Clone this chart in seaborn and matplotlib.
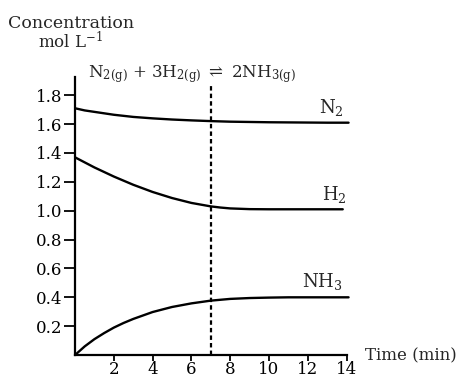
import numpy as np
import pandas as pd
import matplotlib
matplotlib.use("Agg")
import matplotlib.pyplot as plt
import seaborn as sns

# values (mol/L vs minutes)
n2_time = [0, 0.5, 1, 2, 3, 4, 5, 6, 7, 8, 9, 10, 11, 12, 13, 14.1]
n2_conc = [1.71, 1.695, 1.685, 1.665, 1.65, 1.64, 1.632, 1.626, 1.621, 1.617, 1.615, 1.613, 1.612, 1.611, 1.61, 1.61]
h2_time = [0, 0.5, 1, 2, 3, 4, 5, 6, 7, 7.5, 8, 9, 10, 11, 12, 13, 13.8]
h2_conc = [1.37, 1.335, 1.30, 1.237, 1.18, 1.13, 1.088, 1.054, 1.03, 1.022, 1.016, 1.011, 1.01, 1.01, 1.01, 1.01, 1.01]
nh3_time = [0, 0.5, 1, 1.5, 2, 2.5, 3, 4, 5, 6, 7, 8, 9, 10, 11, 12, 13, 14.1]
nh3_conc = [0.0, 0.06, 0.11, 0.152, 0.19, 0.222, 0.25, 0.298, 0.333, 0.358, 0.377, 0.389, 0.395, 0.398, 0.40, 0.40, 0.40, 0.40]
equilibrium_t = 7
x_ticks = [2, 4, 6, 8, 10, 12, 14]
y_ticks = [0.2, 0.4, 0.6, 0.8, 1.0, 1.2, 1.4, 1.6, 1.8]

df = pd.concat([
    pd.DataFrame({"t": n2_time, "c": n2_conc, "gas": "N2"}),
    pd.DataFrame({"t": h2_time, "c": h2_conc, "gas": "H2"}),
    pd.DataFrame({"t": nh3_time, "c": nh3_conc, "gas": "NH3"}),
])

sns.set_theme(style="white")
plt.rcParams["font.family"] = ["DejaVu Serif"]
plt.rcParams["mathtext.fontset"] = "dejavuserif"

fig = plt.figure(figsize=(4.65, 3.83), dpi=100)
ax = fig.add_axes([0.1613, 0.073, 0.605, 0.731])

sns.lineplot(data=df, x="t", y="c", hue="gas", units="gas", estimator=None,
             palette={"N2": "black", "H2": "black", "NH3": "black"},
             linewidth=1.7, legend=False, ax=ax)

ax.plot([equilibrium_t, equilibrium_t], [0, 1.87], color="black", lw=1.6,
        linestyle=(0, (2, 1.4)))

ax.set_xlim(0, 14.5)
ax.set_ylim(0, 1.94)
ax.set_xticks(x_ticks)
ax.set_yticks(y_ticks)
ax.set_xticklabels([str(v) for v in x_ticks])
ax.set_yticklabels([f"{v:.1f}" for v in y_ticks])
ax.set_xlabel("")
ax.set_ylabel("")

for side in ["top", "right"]:
    ax.spines[side].set_visible(False)
for side in ["left", "bottom"]:
    ax.spines[side].set_color("black")
    ax.spines[side].set_linewidth(1.6)
ax.spines["bottom"].set_bounds(0, 14)
ax.spines["left"].set_bounds(0, 1.93)

ax.tick_params(axis="y", direction="out", length=8, width=1.3, pad=1,
               labelsize=12, colors="black", left=True)
ax.tick_params(axis="x", direction="out", length=4, width=1.3, pad=0,
               labelsize=12, colors="black", bottom=True)

# curve labels
ax.text(12.6, 1.64, r"N$_2$", fontsize=13, va="bottom")
ax.text(12.75, 1.04, r"H$_2$", fontsize=13, va="bottom")
ax.text(11.7, 0.44, r"NH$_3$", fontsize=13, va="bottom")

fig.text(0.017, 0.928, "Concentration", fontsize=12.5)
fig.text(0.082, 0.875, r"mol L$^{-1}$", fontsize=12)
fig.text(0.19, 0.797, r"N$_{2\mathrm{(g)}}$ + 3H$_{2\mathrm{(g)}}$ $\rightleftharpoons$ 2NH$_{3\mathrm{(g)}}$",
         fontsize=12)
fig.text(0.785, 0.06, "Time (min)", fontsize=12)

fig.savefig("out.png", dpi=100)
